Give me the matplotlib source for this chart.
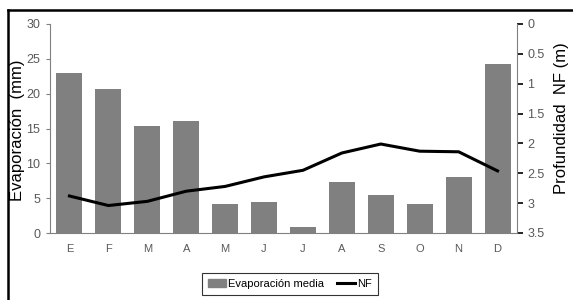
import matplotlib.pyplot as plt
from matplotlib.lines import Line2D

meses = ["E", "F", "M", "A", "M", "J", "J", "A", "S", "O", "N", "D"]
evaporacion = [22.9, 20.6, 15.4, 16.1, 4.1, 4.5, 0.9, 7.3, 5.5, 4.2, 8.1, 24.2]
nf = [2.88, 3.04, 2.97, 2.80, 2.72, 2.56, 2.45, 2.16, 2.01, 2.13, 2.14, 2.46]

plt.rcParams["font.family"] = ["Liberation Sans", "DejaVu Sans"]

gris = "#808080"
gris_txt = "#595959"

fig = plt.figure(figsize=(5.73, 3.0), dpi=100)
ax = fig.add_axes([50 / 573, 1 - 233 / 300, 467 / 573, 209 / 300])

x = range(len(meses))
ax.bar(x, evaporacion, width=0.67, color=gris, label="Evaporación media")
ax.set_xlim(-0.5, len(meses) - 0.5)
ax.set_ylim(0, 30)
ax.set_yticks(range(0, 31, 5))
ax.set_xticks(list(x))
ax.set_xticklabels(meses)
ax.tick_params(axis="x", length=0, pad=8, labelsize=8, labelcolor=gris_txt)
ax.tick_params(axis="y", length=3, width=0.8, color=gris, pad=4, labelsize=9, labelcolor=gris_txt)
ax.set_ylabel("Evaporación  (mm)", fontsize=12)
ax.yaxis.set_label_coords(-25 / 467, 0.49)
for s in ["top", "right"]:
    ax.spines[s].set_visible(False)
for s in ["left", "bottom"]:
    ax.spines[s].set_color(gris)
    ax.spines[s].set_linewidth(0.8)

ax2 = ax.twinx()
ax2.plot(x, nf, color="black", linewidth=2.2, label="NF")
ax2.set_ylim(3.5, 0)
ax2.set_yticks([0, 0.5, 1, 1.5, 2, 2.5, 3, 3.5])
ax2.set_yticklabels(["0", "0.5", "1", "1.5", "2", "2.5", "3", "3.5"])
ax2.tick_params(axis="y", length=4, width=1.2, color="black", labelsize=9, labelcolor=gris_txt)
ax2.set_ylabel("Profundidad  NF (m)", fontsize=12)
ax2.yaxis.set_label_coords(1 + 37 / 467, 0.55)
for s in ["top", "left", "bottom"]:
    ax2.spines[s].set_visible(False)
ax2.spines["right"].set_color(gris)
ax2.spines["right"].set_linewidth(0.8)

handles = [plt.Rectangle((0, 0), 1, 1, color=gris), Line2D([0], [0], color="black", linewidth=2.2)]
leg = fig.legend(handles, ["Evaporación media", "NF"], loc="center", bbox_to_anchor=(290 / 573, 1 - 284 / 300),
                 ncol=2, frameon=True, fancybox=False, edgecolor="black", fontsize=8,
                 handlelength=1.6, handletextpad=0.2, columnspacing=1.2, borderpad=0.5)
leg.get_frame().set_linewidth(0.8)

# marco exterior (solo visibles izquierda y arriba)
fig.add_artist(Line2D([8 / 573, 8 / 573], [0, 1 - 10 / 300], transform=fig.transFigure, color="black", linewidth=1.8))
fig.add_artist(Line2D([8 / 573, 1], [1 - 10 / 300, 1 - 10 / 300], transform=fig.transFigure, color="black", linewidth=1.8))

fig.savefig("out.png", dpi=100)
